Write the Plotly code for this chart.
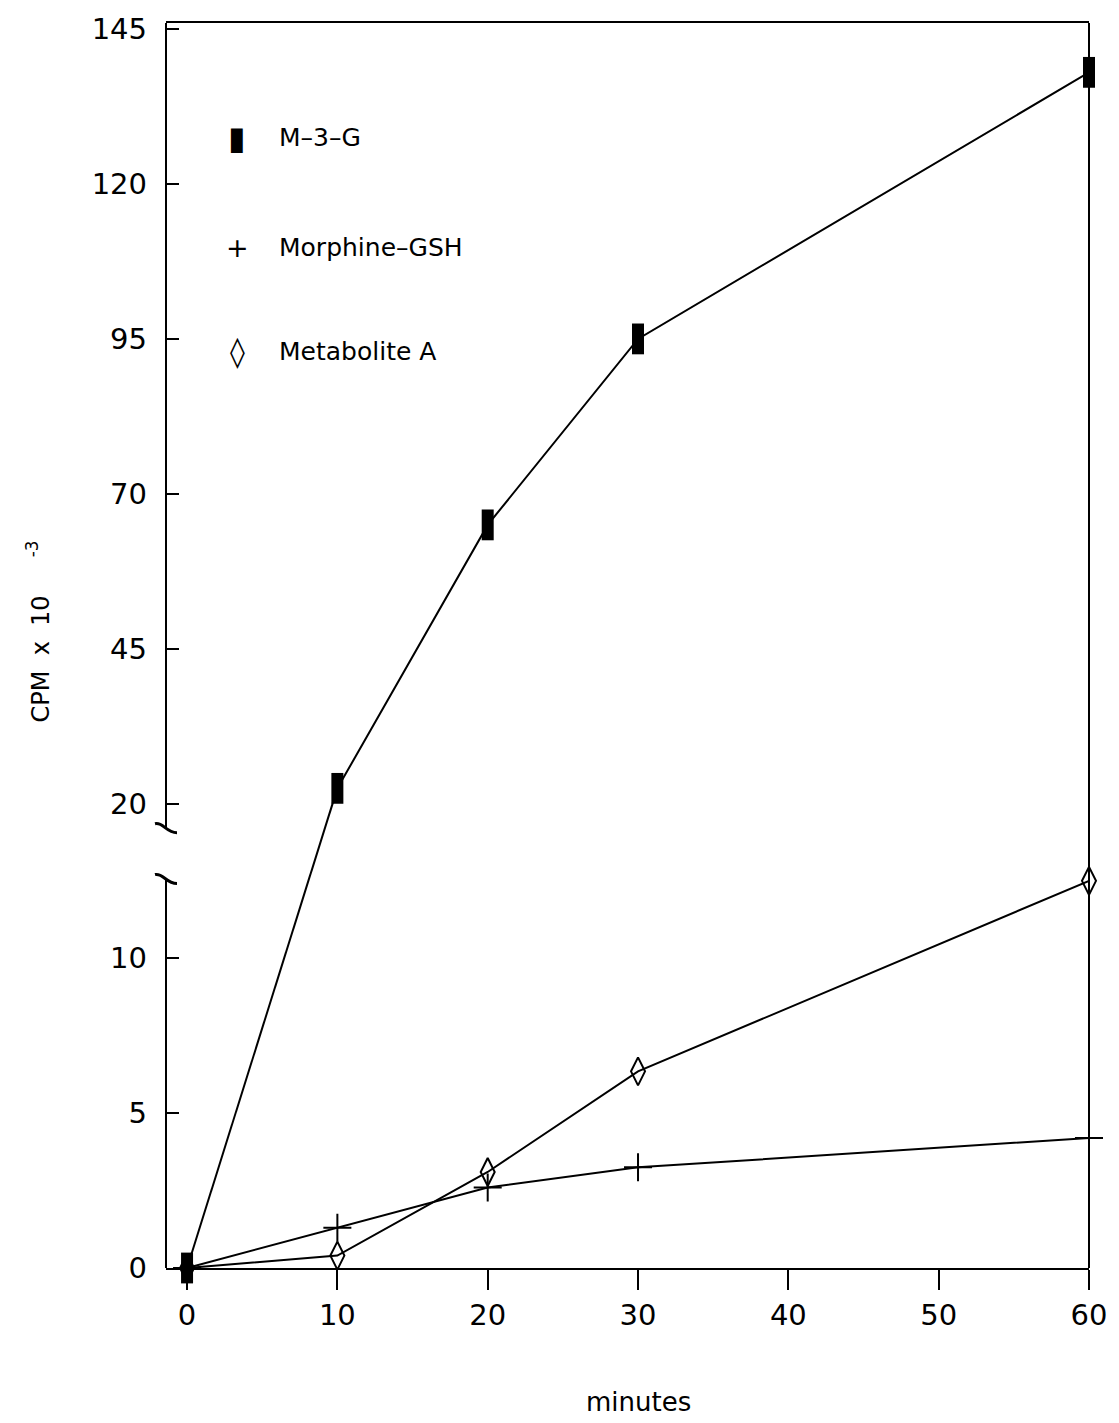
import plotly.graph_objects as go

# ---------------- data ----------------
minutes = [0, 10, 20, 30, 60]
m3g = [0, 22.5, 65, 95, 138]              # upper (broken) scale
morphine_gsh = [0, 1.3, 2.6, 3.25, 4.2]
metabolite_a = [0, 0.4, 3.1, 6.35, 12.5]

x_ticks = [0, 10, 20, 30, 40, 50, 60]
y_low_ticks = [0, 5, 10]
y_up_ticks = [20, 45, 70, 95, 120, 145]

# ---------------- layout geometry ----------------
W, H = 1119, 1423
ML, MR, MT, MB = 166, 30, 18, 155
PW, PH = W - ML - MR, H - MT - MB

x_range = [-1.4, 60]
y_low_range = [0, 40.2]
y_up_range = [-54.87, 145.96]
low_break, up_break = 12.57, 16.0

def up_to_low(v):
    f = (v - y_up_range[0]) / (y_up_range[1] - y_up_range[0])
    return y_low_range[0] + f * (y_low_range[1] - y_low_range[0])

def px(xp):
    return (xp - ML) / PW

def py(yp):
    return 1 - (yp - MT) / PH

FONT = "DejaVu Sans, sans-serif"
LW = 2
NB = "\u00a0"

fig = go.Figure()

# M-3-G upper part (points from 10 min on), on upper scale
fig.add_trace(go.Scatter(
    x=minutes[1:], y=m3g[1:], yaxis="y2", mode="lines+markers",
    line=dict(color="black", width=LW),
    marker=dict(symbol="line-ns", size=22, color="black",
                line=dict(color="black", width=12)),
    cliponaxis=False, showlegend=False))
# bridge segment across the axis break (0 min point on lower scale)
fig.add_trace(go.Scatter(
    x=minutes[:2], y=[m3g[0], up_to_low(m3g[1])], yaxis="y", mode="lines",
    line=dict(color="black", width=LW), showlegend=False))
fig.add_trace(go.Scatter(
    x=minutes[:1], y=m3g[:1], yaxis="y", mode="markers",
    marker=dict(symbol="line-ns", size=22, color="black",
                line=dict(color="black", width=12)),
    cliponaxis=False, showlegend=False))

# Morphine-GSH
fig.add_trace(go.Scatter(
    x=minutes, y=morphine_gsh, yaxis="y", mode="lines+markers",
    line=dict(color="black", width=LW),
    marker=dict(symbol="cross-thin-open", size=20, color="black",
                line=dict(color="black", width=2)),
    cliponaxis=False, showlegend=False))

# Metabolite A
fig.add_trace(go.Scatter(
    x=minutes, y=metabolite_a, yaxis="y", mode="lines+markers",
    line=dict(color="black", width=LW),
    marker=dict(symbol="diamond-tall-open", size=20, color="black",
                line=dict(color="black", width=2)),
    cliponaxis=False, showlegend=False))

shapes = [
    # left axis, lower segment
    dict(type="line", xref="paper", yref="y", x0=0, x1=0,
         y0=y_low_range[0], y1=low_break, line=dict(color="black", width=LW)),
    # left axis, upper segment
    dict(type="line", xref="paper", yref="y2", x0=0, x1=0,
         y0=up_break, y1=y_up_range[1], line=dict(color="black", width=LW)),
    # right border
    dict(type="line", xref="paper", yref="paper", x0=1, x1=1, y0=0, y1=1,
         line=dict(color="black", width=LW)),
]
# break curls
for yc in (826, 877):
    shapes.append(dict(
        type="path", xref="paper", yref="paper",
        path=(f"M {px(155)},{py(yc-4)} C {px(163)},{py(yc-6)} "
              f"{px(166)},{py(yc+5)} {px(177)},{py(yc+5)}"),
        line=dict(color="black", width=3)))

ytitle = f"CPM{NB}{NB}x{NB}{NB}10{NB*5}<sup>-3</sup>"
annotations = [
    dict(text="minutes", xref="paper", yref="paper",
         x=px(638), y=py(1403), xanchor="center", yanchor="middle",
         showarrow=False, font=dict(size=26, family=FONT, color="black")),
    dict(text=ytitle, xref="paper", yref="paper",
         x=px(38), y=py(629), xanchor="center", yanchor="middle",
         textangle=-90, showarrow=False,
         font=dict(size=24, family=FONT, color="black")),
]
legend_items = [("▮", "M–3–G", 133, 32), ("+", "Morphine–GSH", 243, 27),
                ("◊", "Metabolite A", 348, 30)]
for glyph, label, yc, gsize in legend_items:
    annotations.append(dict(text=glyph, xref="paper", yref="paper",
                            x=px(237), y=py(yc), xanchor="center", yanchor="middle",
                            showarrow=False,
                            font=dict(size=gsize, family="DejaVu Sans", color="black")))
    annotations.append(dict(text=label, xref="paper", yref="paper",
                            x=px(277), y=py(yc), xanchor="left", yanchor="middle",
                            showarrow=False,
                            font=dict(size=25, family="DejaVu Sans", color="black")))

fig.update_layout(
    width=W, height=H,
    margin=dict(l=ML, r=MR, t=MT, b=MB),
    paper_bgcolor="white", plot_bgcolor="white",
    font=dict(family=FONT, color="black"),
    showlegend=False,
    xaxis=dict(range=x_range, tickvals=x_ticks, ticks="outside", ticklen=20,
               tickwidth=2, tickcolor="black", showline=True, linewidth=LW,
               linecolor="black", mirror=True, showgrid=False, zeroline=False,
               tickfont=dict(size=29), ticklabelstandoff=0),
    yaxis=dict(range=y_low_range, tickvals=y_low_ticks, ticks="inside", ticklen=13,
               tickwidth=2, tickcolor="black", showline=False, showgrid=False,
               zeroline=False, tickfont=dict(size=29), ticklabelstandoff=18),
    yaxis2=dict(range=y_up_range, tickvals=y_up_ticks, ticks="inside", ticklen=13,
                tickwidth=2, tickcolor="black", showline=False, showgrid=False,
                zeroline=False, overlaying="y", side="left",
                tickfont=dict(size=29), ticklabelstandoff=18),
    shapes=shapes,
    annotations=annotations,
)

fig.write_html("out.html")
